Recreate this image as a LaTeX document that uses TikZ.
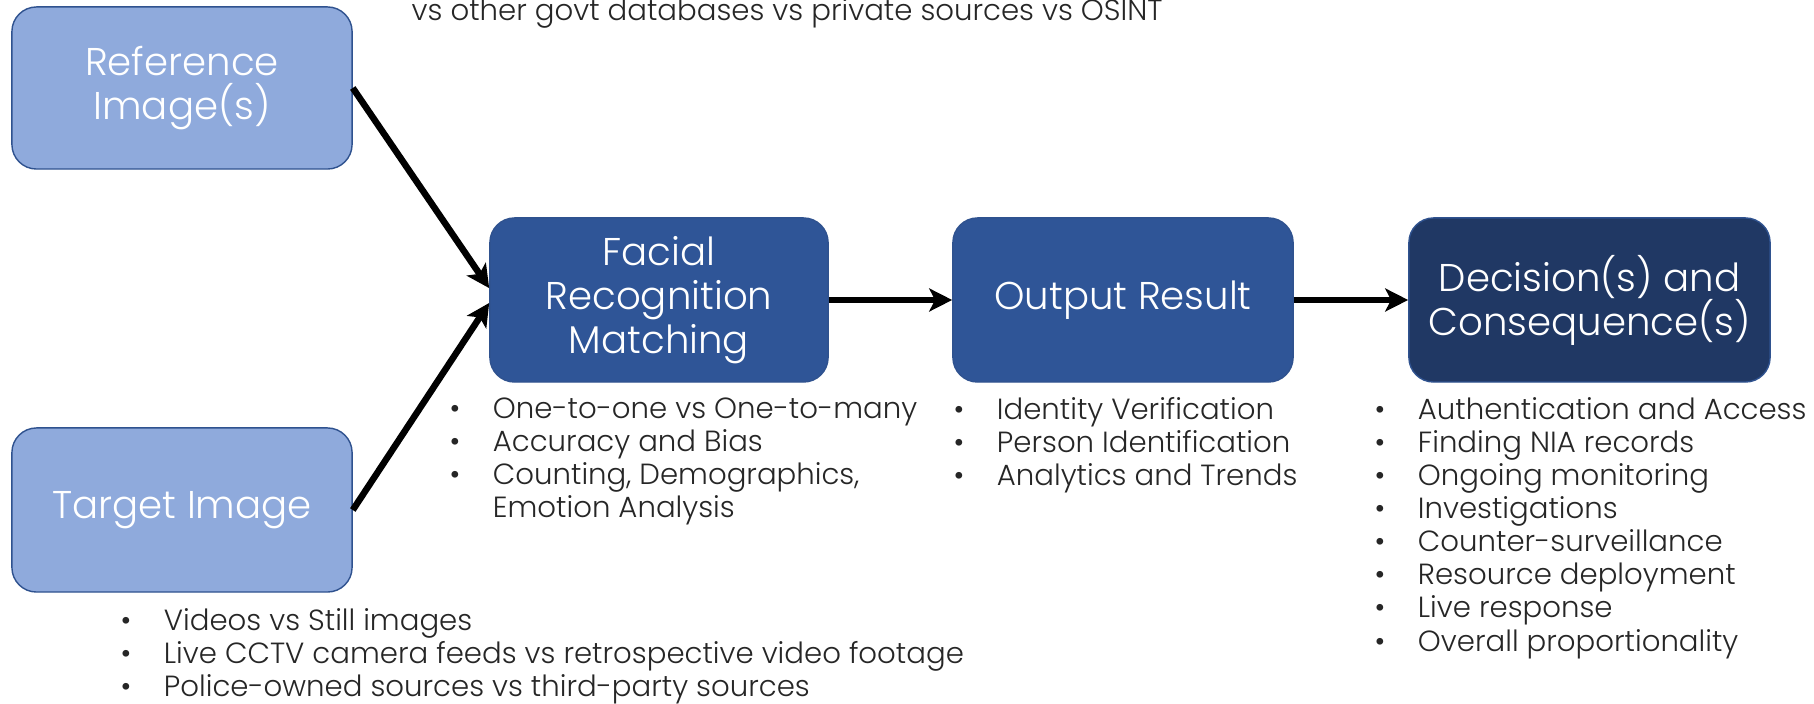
\documentclass[tikz,border=0pt]{standalone}
\usepackage{fontspec}
\setmainfont{Poppins Light}
\usepackage{xcolor}
\usetikzlibrary{arrows.meta}

\definecolor{paleblue}{HTML}{8FAADC}
\definecolor{midblue}{HTML}{2F5597}
\definecolor{deepblue}{HTML}{203864}
\definecolor{edgeblue}{HTML}{2F528F}
\definecolor{notegray}{HTML}{262626}

\newcommand{\bitem}[1]{\makebox[12.3pt][l]{\textbullet}#1}

\begin{document}
\begin{tikzpicture}[x=0.01cm,y=-0.01cm,
    box/.style={rounded corners=7pt, draw=edgeblue, line width=0.4pt, text=white,
        align=center, inner sep=0pt, font=\fontsize{11}{12.5}\selectfont},
    notes/.style={font=\fontsize{8.3}{9.4}\selectfont, text=notegray, align=left,
        inner sep=0pt, anchor=north west},
    flow/.style={line width=1.85pt, -{Stealth[length=6.5pt, width=6.5pt, inset=1.6pt]}}]
    \useasboundingbox (0,0) rectangle (1814,704);
    % boxes
    \node[box, fill=paleblue, minimum width=3.4cm, minimum height=1.62cm] (ref) at (182,88) {Reference\\Image(s)};
    \node[box, fill=paleblue, minimum width=3.4cm, minimum height=1.64cm] (target) at (182,510) {Target Image};
    \node[box, fill=midblue, minimum width=3.38cm, minimum height=1.64cm] (facial) at (659,300) {Facial\\Recognition\\Matching};
    \node[box, fill=midblue, minimum width=3.4cm, minimum height=1.64cm] (output) at (1123,300) {Output Result};
    \node[box, fill=deepblue, minimum width=3.61cm, minimum height=1.64cm] (decision) at (1589.5,300) {Decision(s) and\\Consequence(s)};
    % arrows
    \draw[flow] (ref.east) -- (facial.176.5);
    \draw[flow] (target.east) -- (facial.181);
    \draw[flow] (facial.east) -- (output.west);
    \draw[flow] (output.east) -- (decision.west);
    % notes
    \node[notes, anchor=base west] (refnote) at (411,21) {vs other govt databases vs private sources vs OSINT};
    \node[notes] (facialnote) at (449,397) {\bitem{One-to-one vs One-to-many}\\\bitem{Accuracy and Bias}\\\bitem{Counting, Demographics,}\\\hspace{12.3pt}Emotion Analysis};
    \node[notes] (outputnote) at (953,397) {\bitem{Identity Verification}\\\bitem{Person Identification}\\\bitem{Analytics and Trends}};
    \node[notes] (decisionnote) at (1374,397) {\bitem{Authentication and Access}\\\bitem{Finding NIA records}\\\bitem{Ongoing monitoring}\\\bitem{Investigations}\\\bitem{Counter-surveillance}\\\bitem{Resource deployment}\\\bitem{Live response}\\\bitem{Overall proportionality}};
    \node[notes] (targetnote) at (120,608) {\bitem{Videos vs Still images}\\\bitem{Live CCTV camera feeds vs retrospective video footage}\\\bitem{Police-owned sources vs third-party sources}};
\end{tikzpicture}
\end{document}
